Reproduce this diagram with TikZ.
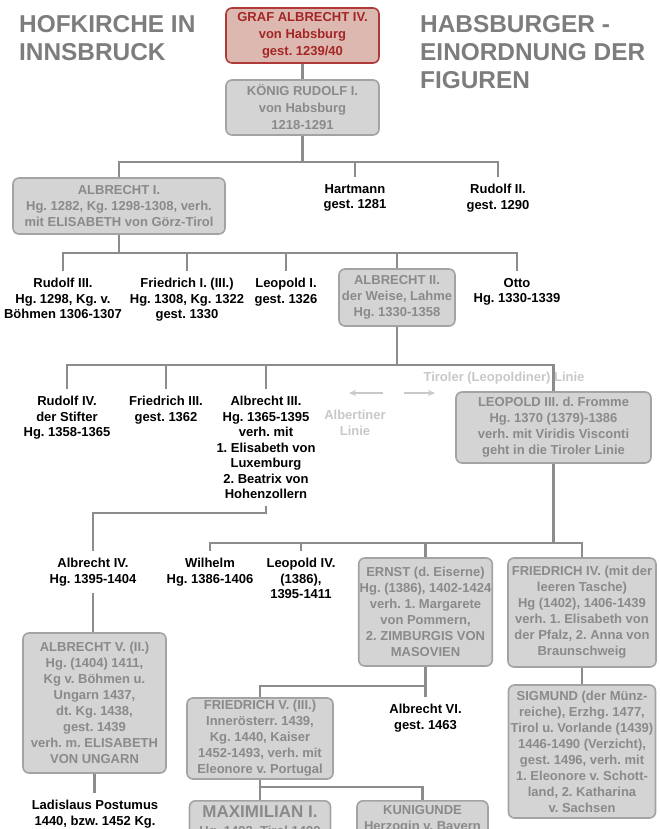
\documentclass[tikz,border=0pt]{standalone}
\usepackage{fontspec}
\setmainfont{Liberation Sans}
\usetikzlibrary{arrows.meta}
\frenchspacing

\definecolor{boxfill}{HTML}{D4D4D4}
\definecolor{boxline}{HTML}{A3A3A3}
\definecolor{boxtext}{HTML}{8A8A8A}
\definecolor{redfill}{HTML}{DDB8B0}
\definecolor{redline}{HTML}{B03A3A}
\definecolor{redtext}{HTML}{A32626}
\definecolor{connline}{HTML}{8C8C8C}
\definecolor{titlegray}{HTML}{7D7D7D}
\definecolor{faintgray}{HTML}{C8C8C8}

\begin{document}
\begin{tikzpicture}[x=1pt,y=-1pt,
    box/.style={draw=boxline, fill=boxfill, text=boxtext, line width=1.6pt, rounded corners=6pt,
      align=center, inner xsep=1pt, inner ysep=2pt, font=\fontsize{13}{16}\selectfont\bfseries},
    redbox/.style={box, draw=redline, fill=redfill, text=redtext},
    person/.style={anchor=north, align=center, inner xsep=0pt, inner ysep=7pt,
      font=\fontsize{13}{15.5}\selectfont\bfseries},
    faint/.style={text=faintgray, font=\fontsize{13}{15.5}\selectfont\bfseries},
    headline/.style={anchor=north west, align=left, inner sep=0pt, text=titlegray,
      font=\fontsize{24.4}{28.3}\selectfont\bfseries},
    conn/.style={draw=connline, line width=2.2pt}]

    \useasboundingbox (0,0) rectangle (659,829);
    \clip (0,0) rectangle (659,829);

    % headings
    \node[headline] (hofkirche) at (19,15) {HOFKIRCHE IN\\INNSBRUCK};
    \node[headline] (habsburger) at (420,15) {HABSBURGER -\\EINORDNUNG DER\\FIGUREN};

    % top of the tree
    \node[redbox, minimum width=153pt, minimum height=55pt] (graf) at (302.5,35.5)
        {GRAF ALBRECHT IV.\\[1pt]von Habsburg\\[1pt]gest. 1239/40};
    \node[box, minimum width=153pt, minimum height=55pt] (koenig) at (302.5,107.5)
        {KÖNIG RUDOLF I.\\[1pt]von Habsburg\\[1pt]1218-1291};

    % children of Rudolf I.
    \node[box, minimum width=212pt, minimum height=56pt] (albrechtI) at (119,206)
        {ALBRECHT I.\\Hg. 1282, Kg. 1298-1308, verh.\\mit ELISABETH von Görz-Tirol};
    \node[person] (hartmann) at (355,177) {Hartmann\\gest. 1281};
    \node[person] (rudolfII) at (498,177) {Rudolf II.\\gest. 1290};

    % children of Albrecht I.
    \node[person] (rudolfIII) at (63,271) {Rudolf III.\\Hg. 1298, Kg. v.\\Böhmen 1306-1307};
    \node[person] (friedrichI) at (187,271) {Friedrich I. (III.)\\Hg. 1308, Kg. 1322\\gest. 1330};
    \node[person] (leopoldI) at (286,271) {Leopold I.\\gest. 1326};
    \node[box, minimum width=116pt, minimum height=57pt] (albrechtII) at (397,297.5)
        {ALBRECHT II.\\der Weise, Lahme\\Hg. 1330-1358};
    \node[person] (otto) at (517,271) {Otto\\Hg. 1330-1339};

    % children of Albrecht II.
    \node[person] (rudolfIV) at (67,389) {Rudolf IV.\\der Stifter\\Hg. 1358-1365};
    \node[person] (friedrichIII) at (166,389) {Friedrich III.\\gest. 1362};
    \node[person] (albrechtIII) at (266,389) {Albrecht III.\\Hg. 1365-1395\\verh. mit\\1. Elisabeth von\\Luxemburg\\2. Beatrix von\\Hohenzollern};
    \node[box, minimum width=195pt, minimum height=71pt] (leopoldIII) at (553.5,427.5)
        {LEOPOLD III. d. Fromme\\Hg. 1370 (1379)-1386\\verh. mit Viridis Visconti\\geht in die Tiroler Linie};

    % the two lines
    \node[faint] (tiroler) at (504,378) {Tiroler (Leopoldiner) Linie};
    \node[faint, align=center, anchor=north] (albertiner) at (355,407) {Albertiner\\Linie};
    \coordinate (albA) at (383,393);
    \coordinate (albB) at (349,393);
    \coordinate (tirA) at (404,393);
    \coordinate (tirB) at (435,393);
    \draw[faintgray, line width=1.3pt, -{Stealth[length=7pt,width=6pt]}] (albA) -- (albB);
    \draw[faintgray, line width=1.3pt, -{Stealth[length=7pt,width=6pt]}] (tirA) -- (tirB);

    % Albertine line
    \node[person] (albrechtIV) at (93,551) {Albrecht IV.\\Hg. 1395-1404};
    \node[box, minimum width=143pt, minimum height=140pt] (albrechtV) at (94.5,703)
        {ALBRECHT V. (II.)\\Hg. (1404) 1411,\\Kg v. Böhmen u.\\Ungarn 1437,\\dt. Kg. 1438,\\gest. 1439\\verh. m. ELISABETH\\VON UNGARN};
    \node[person] (ladislaus) at (95,793) {Ladislaus Postumus\\1440, bzw. 1452 Kg.};

    % Leopoldine line
    \node[person] (wilhelm) at (210,551) {Wilhelm\\Hg. 1386-1406};
    \node[person] (leopoldIV) at (301,551) {Leopold IV.\\(1386),\\1395-1411};
    \node[box, minimum width=133pt, minimum height=108pt] (ernst) at (425.5,612)
        {ERNST (d. Eiserne)\\Hg. (1386), 1402-1424\\verh. 1. Margarete\\von Pommern,\\2. ZIMBURGIS VON\\MASOVIEN};
    \node[box, minimum width=148pt, minimum height=109pt] (friedrichIV) at (582,612.5)
        {FRIEDRICH IV. (mit der\\leeren Tasche)\\Hg (1402), 1406-1439\\verh. 1. Elisabeth von\\der Pfalz, 2. Anna von\\Braunschweig};
    \node[box, minimum width=146pt, minimum height=81pt] (friedrichV) at (260,738.5)
        {FRIEDRICH V. (III.)\\Innerösterr. 1439,\\Kg. 1440, Kaiser\\1452-1493, verh. mit\\Eleonore v. Portugal};
    \node[person] (albrechtVI) at (425.5,697) {Albrecht VI.\\gest. 1463};
    \node[box, minimum width=147pt, minimum height=133pt] (sigmund) at (582,751.5)
        {SIGMUND (der Münz-\\reiche), Erzhg. 1477,\\Tirol u. Vorlande (1439)\\1446-1490 (Verzicht),\\gest. 1496, verh. mit\\1. Eleonore v. Schott-\\land, 2. Katharina\\v. Sachsen};
    \node[box, anchor=north, inner ysep=5pt, minimum width=141pt] (maximilian) at (260,800)
        {{\fontsize{17}{18}\selectfont MAXIMILIAN I.}\\[2pt]Hg. 1493, Tirol 1490};
    \node[box, anchor=north, inner ysep=5pt, minimum width=131pt] (kunigunde) at (422.5,800)
        {KUNIGUNDE\\Herzogin v. Bayern};

    % connectors
    \coordinate (busA) at (0,162);
    \coordinate (busB) at (0,253);
    \coordinate (busC) at (0,365);
    \coordinate (busD) at (0,513);
    \coordinate (busE) at (0,543);
    \coordinate (busF) at (0,686);
    \coordinate (busG) at (0,787);

    \draw[conn] (graf) -- (koenig);
    \draw[conn] (koenig) -- (koenig |- busA);
    \draw[conn] (albrechtI.north) |- (rudolfII.north |- busA) -- (rudolfII.north);
    \draw[conn] (hartmann.north) -- (hartmann.north |- busA);

    \draw[conn] (albrechtI) -- (albrechtI |- busB);
    \draw[conn] (rudolfIII.north) |- (otto.north |- busB) -- (otto.north);
    \draw[conn] (friedrichI.north) -- (friedrichI.north |- busB);
    \draw[conn] (leopoldI.north) -- (leopoldI.north |- busB);
    \draw[conn] (albrechtII) -- (albrechtII |- busB);

    \draw[conn] (albrechtII) -- (albrechtII |- busC);
    \draw[conn] (rudolfIV.north) |- (leopoldIII.north |- busC) -- (leopoldIII.north);
    \draw[conn] (friedrichIII.north) -- (friedrichIII.north |- busC);
    \draw[conn] (albrechtIII.north) -- (albrechtIII.north |- busC);

    \draw[conn] (albrechtIII.south) |- (albrechtIV.north |- busD) -- (albrechtIV.north);
    \draw[conn] (albrechtIV.south) -- (albrechtIV.south |- albrechtV.north);
    \draw[conn] (albrechtV) -- (albrechtV |- ladislaus.north);

    \draw[conn] (leopoldIII) -- (leopoldIII |- busE);
    \draw[conn] (wilhelm.north) |- (friedrichIV.north |- busE) -- (friedrichIV.north);
    \draw[conn] (leopoldIV.north) -- (leopoldIV.north |- busE);
    \draw[conn] (ernst.north) -- (ernst.north |- busE);

    \draw[conn] (ernst) -- (albrechtVI);
    \draw[conn] (friedrichV.north) |- (ernst.south |- busF);
    \draw[conn] (friedrichIV) -- (sigmund);

    \draw[conn] (friedrichV.south) |- (kunigunde.north |- busG) -- (kunigunde.north);
    \draw[conn] (maximilian.north) -- (maximilian.north |- busG);

\end{tikzpicture}
\end{document}
